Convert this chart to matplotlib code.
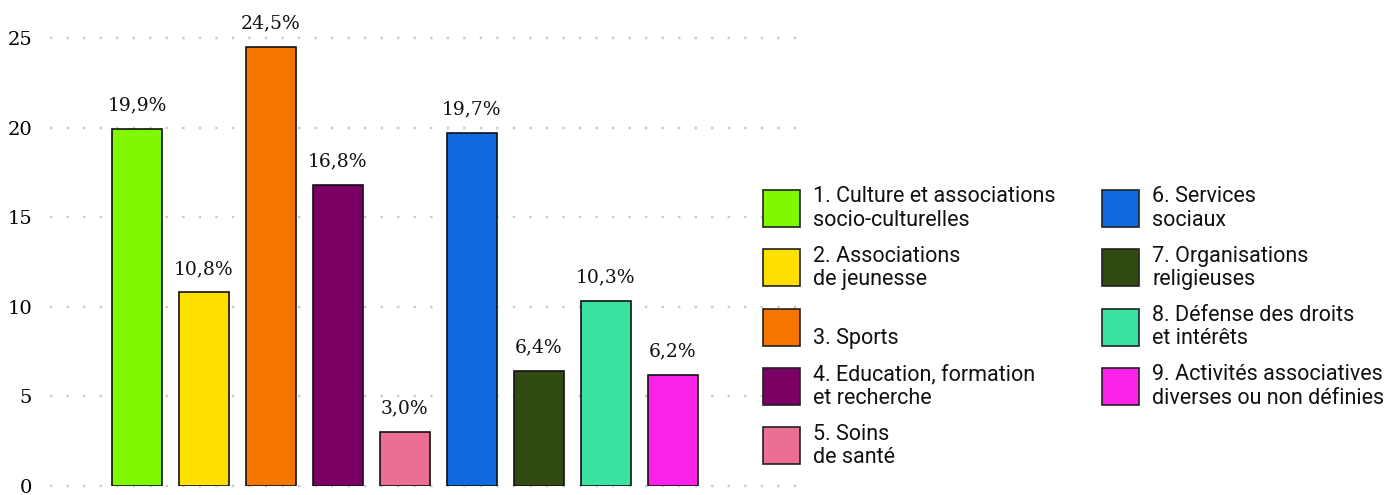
import matplotlib
matplotlib.use("Agg")
import matplotlib.pyplot as plt
from matplotlib.patches import Rectangle

# données
categories = ["1. Culture et associations\nsocio-culturelles",
              "2. Associations\nde jeunesse",
              "\n3. Sports",
              "4. Education, formation\net recherche",
              "5. Soins\nde santé",
              "6. Services\nsociaux",
              "7. Organisations\nreligieuses",
              "8. Défense des droits\net intérêts",
              "9. Activités associatives\ndiverses ou non définies"]
valeurs = [19.9, 10.8, 24.5, 16.8, 3.0, 19.7, 6.4, 10.3, 6.2]
couleurs = ["#80f900", "#fde000", "#f47500", "#7a0066", "#ea6f93",
            "#1169df", "#304a12", "#3be3a0", "#fc22e8"]
yticks = [0, 5, 10, 15, 20, 25]

W, H = 1387, 495
fig = plt.figure(figsize=(W / 100, H / 100), dpi=100)
ax = fig.add_axes([50 / W, 9 / H, 750 / W, 448 / H])

x = list(range(len(valeurs)))
ax.bar(x, valeurs, width=0.75, color=couleurs, edgecolor="#111111",
       linewidth=1.2, zorder=3)
for xi, v in zip(x, valeurs):
    ax.annotate(f"{v:.1f}".replace(".", ",") + "%", (xi, v),
                xytext=(0, 10.5), textcoords="offset points",
                ha="center", va="bottom", fontsize=13.5,
                family="DejaVu Serif", color="#111111")

ax.set_xlim(-1.3, 9.9)
ax.set_ylim(0, 25)
ax.set_yticks(yticks)
ax.set_xticks([])
ax.tick_params(axis="y", length=0, pad=13, labelsize=14)
for lab in ax.get_yticklabels():
    lab.set_family("DejaVu Serif")
for s in ax.spines.values():
    s.set_visible(False)
for yt in yticks:
    ax.axhline(yt, color="#bfcec9", lw=1.7, dashes=(1, 6), zorder=1,
               clip_on=False)

# légende manuelle
col_x = [763, 1102]
row_y0 = 190
pitch = 59.3
box = 37
for i, (lab, c) in enumerate(zip(categories, couleurs)):
    col = 0 if i < 5 else 1
    row = i if i < 5 else i - 5
    x0 = col_x[col]
    y0 = row_y0 + row * pitch
    fig.add_artist(Rectangle((x0 / W, 1 - (y0 + box) / H), box / W, box / H,
                             transform=fig.transFigure, facecolor=c,
                             edgecolor="#222222", lw=1.2))
    fig.text((x0 + 50) / W, 1 - (y0 + box / 2) / H, lab, ha="left",
             va="center", fontsize=15.5, family="Roboto", linespacing=1.15,
             color="#111111")

fig.savefig("out.png", dpi=100)
